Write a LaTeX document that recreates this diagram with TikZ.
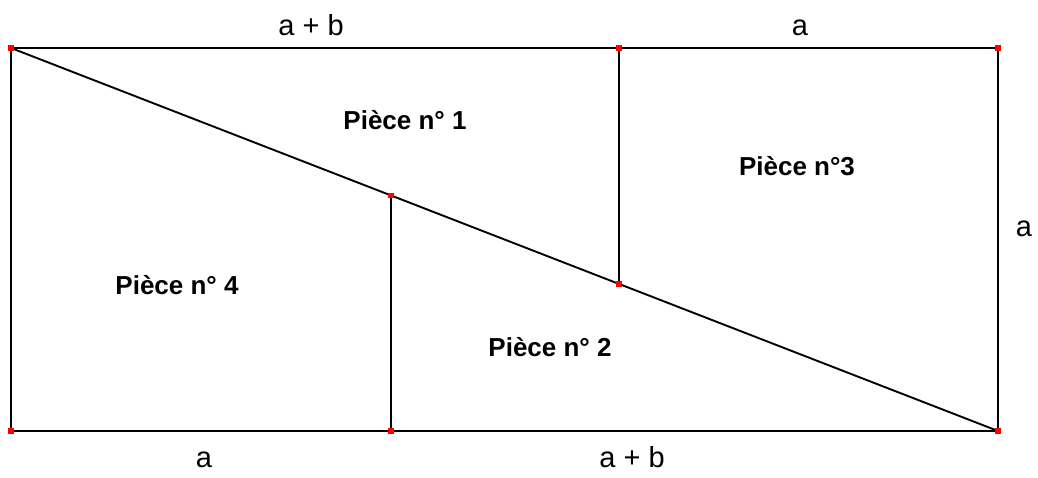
\documentclass[tikz,border=0pt]{standalone}
\usepackage{fontspec}
\setmainfont{Liberation Sans}
\usetikzlibrary{calc}
\tikzset{
  edge/.style     = {black, line width=1.9pt},
  ptdot/.style    = {rectangle, fill=red, inner sep=0pt, minimum size=5.5pt},
  sidelbl/.style  = {font=\fontsize{29}{34}\selectfont, anchor=base},
  piecelbl/.style = {font=\fontsize{26}{31}\selectfont\bfseries, anchor=base},
}
\begin{document}
\begin{tikzpicture}[x=1pt,y=1pt]
  \useasboundingbox (-11,-47) rectangle (1027,431);
  \coordinate (A) at (0,383);   \coordinate (B) at (987,383);
  \coordinate (C) at (987,0);   \coordinate (D) at (0,0);
  \coordinate (P) at (608,383); \coordinate (Pb) at (608,0);
  \coordinate (Q) at (380,0);   \coordinate (Qt) at (380,383);
  \coordinate (R) at (intersection of A--C and P--Pb);
  \coordinate (S) at (intersection of A--C and Q--Qt);
  \draw[edge] (A) -- (B) -- (C) -- (D) -- cycle;
  \draw[edge] (A) -- (C);
  \draw[edge] (P) -- (R);
  \draw[edge] (Q) -- (S);
  \foreach \p in {A,B,C,D,P,Q,R,S}
    \node[ptdot] (dot\p) at (\p) {};
  \node[sidelbl] (topab) at (300,395) {a + b};
  \node[sidelbl] (topa) at (789,395) {a};
  \node[sidelbl] (righta) at (1013,194) {a};
  \node[sidelbl] (bota) at (193,-37) {a};
  \node[sidelbl] (botab) at (621,-37) {a + b};
  \node[piecelbl] (p1) at (394,301) {Pièce n° 1};
  \node[piecelbl] (p2) at (539,74) {Pièce n° 2};
  \node[piecelbl] (p3) at (786,255) {Pièce n°3};
  \node[piecelbl] (p4) at (166,136) {Pièce n° 4};
\end{tikzpicture}
\end{document}
